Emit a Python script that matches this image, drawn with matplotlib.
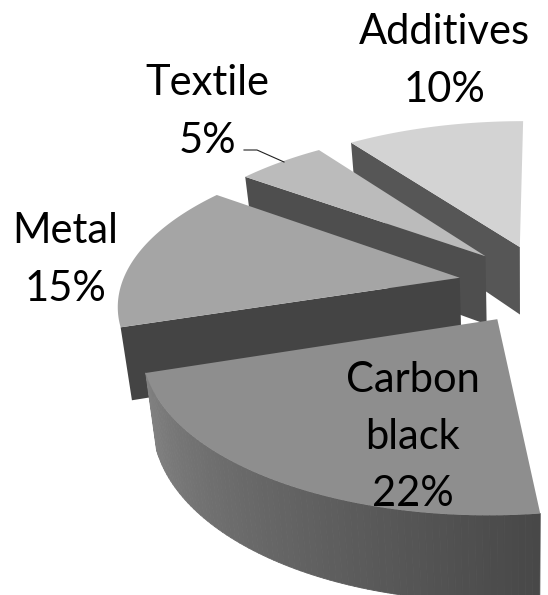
import numpy as np
import matplotlib
matplotlib.use("Agg")
import matplotlib.pyplot as plt
from matplotlib.patches import Polygon
from matplotlib.collections import PolyCollection

categories = ["Additives", "Textile", "Metal", "Carbon\nblack"]
values = [10, 5, 15, 22]
top_colors = ["#d3d3d3", "#bbbbbb", "#a5a5a5", "#8e8e8e"]
side_colors = ["#565656", "#4e4e4e", "#444444", None]

CX, CY, A, B, P, E, D, VX, SH = 546, 284, 338, 155, 0.15, 0.26, 70, 525, 0.972
FS = 30
plt.rcParams["font.family"] = ["Lato", "DejaVu Sans"]

fig = plt.figure(figsize=(5.48, 5.95), dpi=100)
ax = fig.add_axes([0, 0, 1, 1])
ax.set_xlim(0, 548)
ax.set_ylim(595, 0)
ax.axis("off")


def project(ax0, ay0, r, th, bottom=False):
    X = ax0 - r * np.sin(th)
    Y = ay0 + r * np.cos(th)
    s = 1 / (1 + P * Y)
    u = CX + A * X * s
    v = CY - B * Y * s
    if bottom:
        u = VX + (u - VX) * SH
        v = v + D * s
    return u, v


start = 0.0
for i, val in enumerate(values):
    t0 = np.deg2rad(start * 3.6)
    t1 = np.deg2rad((start + val) * 3.6)
    mid = (t0 + t1) / 2
    ex, ey = -E * np.sin(mid), E * np.cos(mid)
    ts = np.linspace(t0, t1, 80)
    au, av = project(ex, ey, 0, 0)
    aub, avb = project(ex, ey, 0, 0, True)
    eu, ev = project(ex, ey, 1, t1)
    eub, evb = project(ex, ey, 1, t1, True)
    if side_colors[i]:
        ax.add_patch(Polygon([(eu, ev), (au, av), (aub, avb), (eub, evb)],
                             closed=True, fc=side_colors[i], ec="none", zorder=2 * i))
    else:
        ut, vt = project(ex, ey, 1, ts)
        ub, vb = project(ex, ey, 1, ts, True)
        quads, cols = [], []
        for k in range(len(ts) - 1):
            quads.append([(ut[k], vt[k]), (ut[k + 1], vt[k + 1]), (ub[k + 1], vb[k + 1]), (ub[k], vb[k])])
            g = (0x82 + (0x48 - 0x82) * k / (len(ts) - 2)) / 255
            cols.append((g, g, g))
        ax.add_collection(PolyCollection(quads, facecolors=cols, edgecolors=cols, linewidths=0.6, zorder=2 * i))
    ut, vt = project(ex, ey, 1, ts)
    pts = [(au, av)] + list(zip(ut, vt))
    ax.add_patch(Polygon(pts, closed=True, fc=top_colors[i], ec="none", zorder=2 * i + 1))
    start += val

label_kw = dict(ha="center", va="center", fontsize=FS, color="black", zorder=20, linespacing=1.62)
ax.text(444, 61, f"{categories[0]}\n{values[0]}%", **label_kw)
ax.text(207, 112, f"{categories[1]}\n{values[1]}%", **label_kw)
ax.text(65, 260, f"{categories[2]}\n{values[2]}%", **label_kw)
ax.text(413, 437, f"{categories[3]}\n{values[3]}%", **label_kw)
ax.plot([244, 257, 284], [150, 150, 162], color="#222222", lw=0.8, zorder=19)

fig.savefig("out.png", dpi=100)
